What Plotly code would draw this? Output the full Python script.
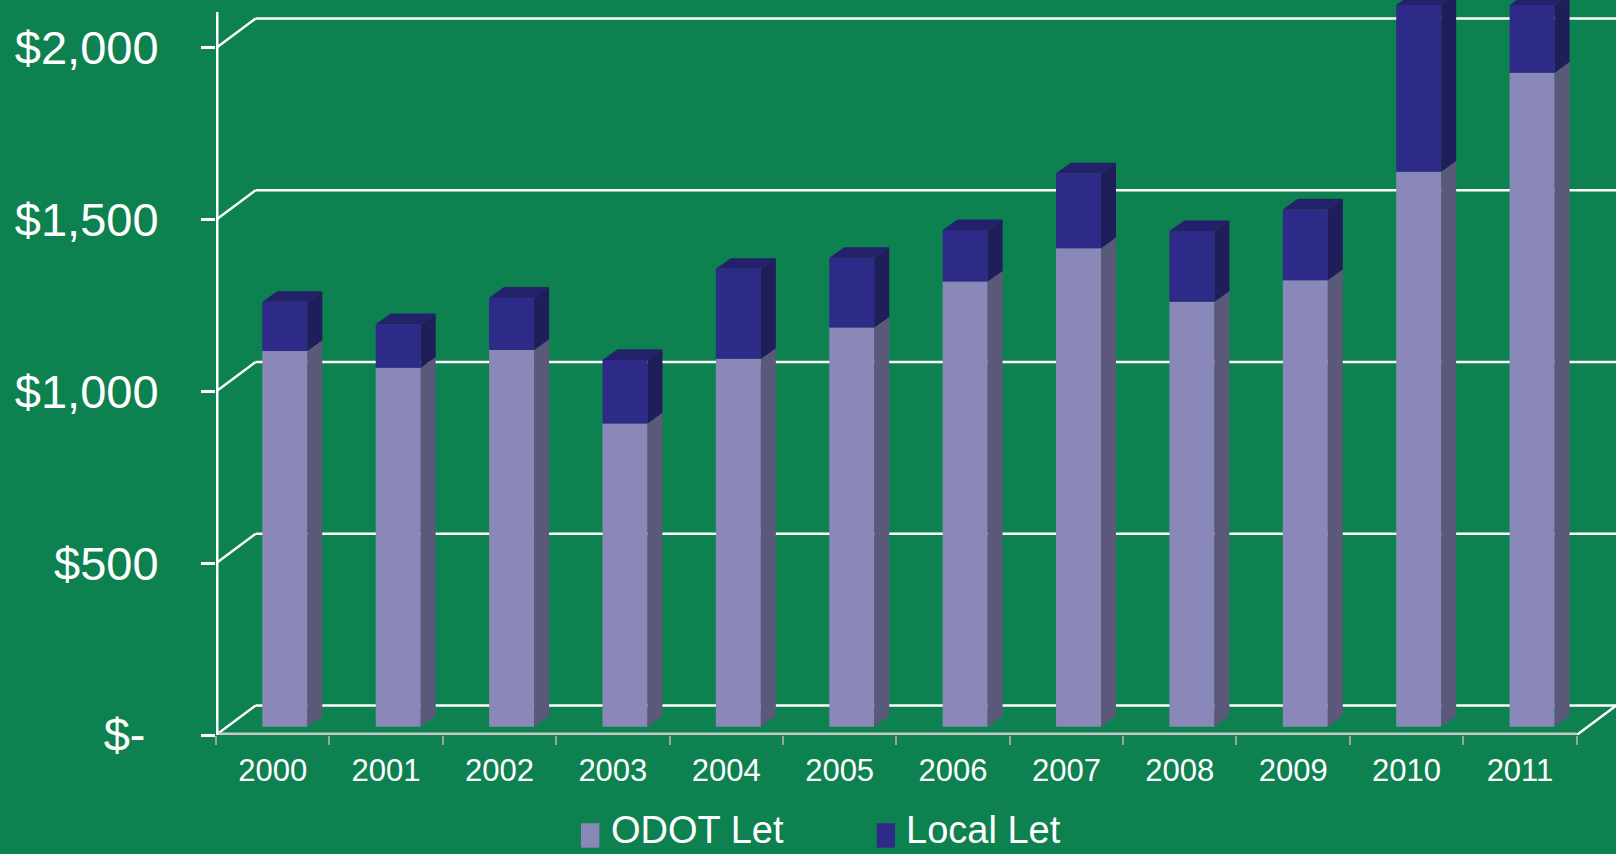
import plotly.graph_objects as go

# ---------------- data ----------------
years = ["2000", "2001", "2002", "2003", "2004", "2005",
         "2006", "2007", "2008", "2009", "2010", "2011"]
odot_let = [1094, 1045, 1097, 883, 1071, 1162, 1296, 1393, 1237, 1300, 1616, 1904]
local_let = [143, 127, 152, 185, 262, 203, 150, 218, 206, 206, 485, 197]
y_tickvals = [0, 500, 1000, 1500, 2000]
y_ticktext = ["$-\u00a0", "$500", "$1,000", "$1,500", "$2,000"]
series_names = ["ODOT Let", "Local Let"]

# ---------------- style ----------------
BG = "#0E8150"
ODOT_FRONT = "#8A88B8"
ODOT_SIDE = "#5B5979"
LOCAL_FRONT = "#2E2A88"
LOCAL_SIDE = "#1F1D5A"
LOCAL_TOP = "#24216B"
FONT = "Liberation Sans, Arial, sans-serif"

BAR_W = 0.397      # front face width (category units)
BAR_SHIFT = 0.107  # bars sit slightly deeper than the front plane
BAR_BASE = 24      # vertical shift from depth (value units)
SIDE_DX = 0.132
SIDE_DY = 31
WALL_DX = 0.35
WALL_DY = 86
Y_MAX = 2139.7
X_MAX = 11.847
AXIS_TOP = 2105

n = len(years)
xs = [i + BAR_SHIFT for i in range(n)]
base0 = [BAR_BASE] * n
odot_top = [BAR_BASE + v for v in odot_let]
total_top = [BAR_BASE + o + l for o, l in zip(odot_let, local_let)]

fig = go.Figure()

# front faces
fig.add_bar(x=xs, y=odot_let, base=base0, width=BAR_W, name=series_names[0],
            marker=dict(color=ODOT_FRONT, line_width=0), showlegend=False,
            hoverinfo="skip")
fig.add_bar(x=xs, y=local_let, base=odot_top, width=BAR_W, name=series_names[1],
            marker=dict(color=LOCAL_FRONT, line_width=0), showlegend=False,
            hoverinfo="skip")


def side_poly(bottoms, tops):
    px, py = [], []
    for x, b, t in zip(xs, bottoms, tops):
        x1 = x + BAR_W / 2
        px += [x1, x1 + SIDE_DX, x1 + SIDE_DX, x1, x1, None]
        py += [b, b + SIDE_DY, t + SIDE_DY, t, b, None]
    return px, py


def top_poly(tops):
    px, py = [], []
    for x, t in zip(xs, tops):
        x0 = x - BAR_W / 2
        x1 = x + BAR_W / 2
        px += [x0, x0 + SIDE_DX, x1 + SIDE_DX, x1, x0, None]
        py += [t, t + SIDE_DY, t + SIDE_DY, t, t, None]
    return px, py


for (px, py), col in [(side_poly(base0, odot_top), ODOT_SIDE),
                      (side_poly(odot_top, total_top), LOCAL_SIDE),
                      (top_poly(total_top), LOCAL_TOP)]:
    fig.add_trace(go.Scatter(x=px, y=py, mode="lines", fill="toself",
                             fillcolor=col, line=dict(width=0, color=col),
                             showlegend=False, hoverinfo="skip"))

# walls / gridlines
shapes = []
for v in y_tickvals:
    shapes.append(dict(type="line", xref="x", yref="y", layer="below",
                       x0=-0.5, y0=v, x1=-0.5 + WALL_DX, y1=v + WALL_DY,
                       line=dict(color="white", width=2.5)))
    shapes.append(dict(type="line", xref="x", yref="y", layer="below",
                       x0=-0.5 + WALL_DX, y0=v + WALL_DY, x1=X_MAX, y1=v + WALL_DY,
                       line=dict(color="white", width=2.5)))
shapes.append(dict(type="line", xref="x", yref="y", layer="below",
                   x0=n - 0.5, y0=0, x1=n - 0.5 + WALL_DX, y1=WALL_DY,
                   line=dict(color="white", width=2.5)))
# x axis (front floor edge)
shapes.append(dict(type="line", xref="x", yref="y", layer="below",
                   x0=-0.5, y0=0, x1=n - 0.5, y1=0,
                   line=dict(color="#C8C8C8", width=5)))
# y axis line
shapes.append(dict(type="line", xref="x", yref="y", layer="below",
                   x0=-0.5, y0=0, x1=-0.5, y1=AXIS_TOP,
                   line=dict(color="white", width=5)))

# legend swatches (paper coordinates)
shapes.append(dict(type="rect", xref="paper", yref="paper",
                   x0=0.2607, x1=0.2738, y0=-0.1533, y1=-0.1201,
                   fillcolor=ODOT_FRONT, line_width=0))
shapes.append(dict(type="rect", xref="paper", yref="paper",
                   x0=0.4719, x1=0.4850, y0=-0.1533, y1=-0.1201,
                   fillcolor=LOCAL_FRONT, line_width=0))

LEG_FONT = dict(family=FONT, size=38, color="white")
annotations = [
    dict(text=series_names[0], xref="paper", yref="paper", x=0.2807, y=-0.1293,
         xanchor="left", yanchor="middle", showarrow=False, font=LEG_FONT),
    dict(text=series_names[1], xref="paper", yref="paper", x=0.4914, y=-0.1293,
         xanchor="left", yanchor="middle", showarrow=False, font=LEG_FONT),
]

fig.update_layout(
    width=1616, height=854,
    margin=dict(l=216, r=0, t=0, b=119, autoexpand=False),
    paper_bgcolor=BG, plot_bgcolor=BG,
    barmode="overlay", showlegend=False,
    shapes=shapes, annotations=annotations,
    xaxis=dict(range=[-0.5, X_MAX], tickmode="array", tickvals=list(range(n)),
               ticktext=years, showgrid=False, zeroline=False, showline=False,
               ticks="", ticklabelstandoff=14,
               tickfont=dict(family=FONT, size=31, color="white"),
               minor=dict(tickmode="array", tickvals=[i - 0.5 for i in range(n + 1)],
                          ticks="outside", ticklen=9, tickwidth=2,
                          tickcolor="#A0A0A0", showgrid=False)),
    yaxis=dict(range=[0, Y_MAX], tickmode="array", tickvals=y_tickvals,
               ticktext=y_ticktext, showgrid=False, zeroline=False, showline=False,
               ticks="outside", ticklen=14, tickwidth=3, tickcolor="white",
               ticklabelstandoff=33,
               tickfont=dict(family=FONT, size=47, color="white")),
)

fig.write_html("out.html", config={"displayModeBar": False},
               post_script="document.body.style.margin='0';document.body.style.overflow='hidden';")
